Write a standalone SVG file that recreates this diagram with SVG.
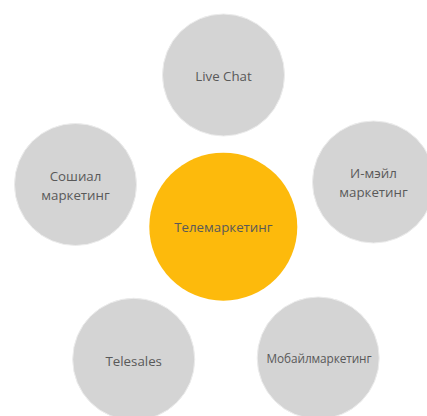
<svg xmlns="http://www.w3.org/2000/svg" width="427" height="416" viewBox="0 0 427 416">
<style>
.g{fill:#d4d4d4;stroke:#ececec;stroke-width:1}
.o{fill:#fdba0c}
text{font-family:"Open Sans","Noto Sans","DejaVu Sans",sans-serif;fill:#595959;text-anchor:middle;font-size:13.3px}
.s{font-size:11.8px;letter-spacing:-0.1px}
</style>
<rect width="427" height="416" fill="#ffffff"/>
<g id="connectors"></g>
<g id="live-chat"><circle class="g" cx="223.5" cy="75" r="61"/><text x="223.5" y="80.5">Live Chat</text></g>
<g id="social"><circle class="g" cx="75.5" cy="184.5" r="61"/><text x="75.5" y="181">Сошиал</text><text x="75.5" y="200">маркетинг</text></g>
<g id="email"><circle class="g" cx="373.5" cy="182" r="61"/><text x="373.5" y="178">И-мэйл</text><text x="373.5" y="197">маркетинг</text></g>
<g id="telemarketing"><circle class="o" cx="223.3" cy="226.7" r="74"/><text x="223.3" y="232">Телемаркетинг</text></g>
<g id="telesales"><circle class="g" cx="133.7" cy="359.3" r="61"/><text x="133.7" y="365.5">Telesales</text></g>
<g id="mobile"><circle class="g" cx="318.2" cy="358" r="61"/><text class="s" x="319" y="363">Мобайлмаркетинг</text></g>
</svg>
